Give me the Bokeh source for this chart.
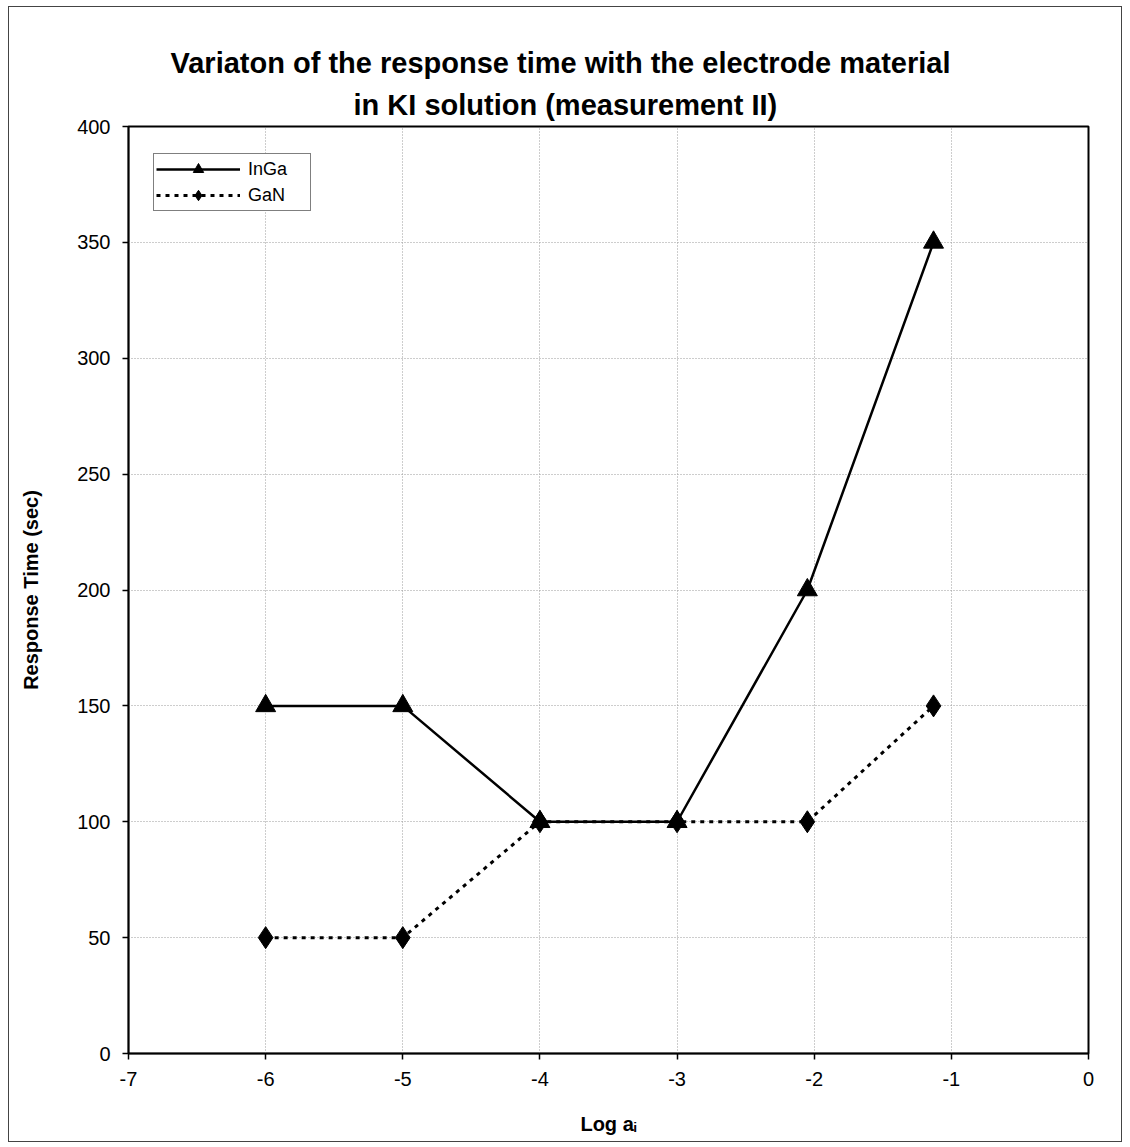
from bokeh.plotting import figure
from bokeh.models import Title, Range1d, FixedTicker, Legend, LegendItem
from bokeh.embed import file_html
from bokeh.resources import INLINE

# ---- data ----
log_a = [-6, -5, -4, -3, -2.05, -1.13]
inga = [150, 150, 100, 100, 200, 350]
gan = [50, 50, 100, 100, 100, 150]
x_ticks = [-7, -6, -5, -4, -3, -2, -1, 0]
y_ticks = [0, 50, 100, 150, 200, 250, 300, 350, 400]
title_lines = ["Variaton of the response time with the electrode material",
               "in KI solution (measurement II)"]

FONT = "Liberation Sans"

p = figure(width=1114, height=1136, output_backend="svg", toolbar_location=None,
           x_range=Range1d(-7, 0), y_range=Range1d(0, 400),
           min_border_left=119, min_border_right=35, min_border_top=119,
           min_border_bottom=90)
p.styles = {"border": "1px solid #444", "box-sizing": "border-box",
            "margin-left": "8px", "margin-top": "6px"}

# titles (added titles sit nearer the frame); centred on the whole chart
p.title.text = title_lines[0]
p.title.align = "left"
p.title.offset = 42
p.title.text_font = FONT
p.title.text_font_size = "29px"
p.title.text_font_style = "bold"
p.title.text_color = "black"
p.title.standoff = 4
p.add_layout(Title(text=title_lines[1], align="left", offset=225, text_font=FONT,
                   text_font_size="29px", text_font_style="bold",
                   text_color="black", standoff=12), "above")

# axes
for ax in (p.xaxis[0], p.yaxis[0]):
    ax.major_label_text_font = FONT
    ax.major_label_text_font_size = "20px"
    ax.major_label_text_color = "black"
    ax.axis_label_text_font = FONT
    ax.axis_label_text_font_size = "20px"
    ax.axis_label_text_font_style = "bold"
    ax.axis_label_text_color = "black"
    ax.axis_line_color = "black"
    ax.axis_line_width = 1.5
    ax.major_tick_line_color = "black"
    ax.major_tick_line_width = 1.5
    ax.major_tick_in = 0
    ax.major_tick_out = 6
    ax.minor_tick_line_color = None

p.xaxis.ticker = FixedTicker(ticks=x_ticks)
p.yaxis.ticker = FixedTicker(ticks=y_ticks)
p.xaxis.major_label_overrides = {t: str(t) for t in x_ticks}
p.yaxis.major_label_overrides = {t: str(t) for t in y_ticks}
p.xaxis.axis_label = "Log a\u1d62"
p.yaxis.axis_label = "Response Time (sec)"
p.xaxis.major_label_standoff = 12
p.xaxis.axis_label_standoff = 24
p.yaxis.major_label_standoff = 12
p.yaxis.axis_label_standoff = 32

# grid
p.xgrid.ticker = FixedTicker(ticks=x_ticks[1:-1])
p.ygrid.ticker = FixedTicker(ticks=y_ticks[1:-1])
for g in (p.xgrid[0], p.ygrid[0]):
    g.grid_line_color = "#9a9a9a"
    g.grid_line_dash = "1 2"
    g.grid_line_width = 1

p.outline_line_color = "black"
p.outline_line_width = 2
p.background_fill_color = "white"
p.border_fill_color = "white"

# series
l1 = p.line(log_a, inga, line_color="black", line_width=2.5)
s1 = p.scatter(log_a, inga, marker="triangle", size=20, fill_color="black", line_color="black")
l2 = p.line(log_a, gan, line_color="black", line_width=3, line_dash="4 5")
s2 = p.scatter(log_a, gan, marker="diamond", size=22, fill_color="black", line_color="black")

legend = Legend(items=[LegendItem(label="InGa", renderers=[l1, s1]),
                       LegendItem(label="GaN", renderers=[l2, s2])],
                location=(25, 842), orientation="vertical",
                glyph_width=84, glyph_height=26, label_width=60, label_standoff=8,
                padding=2, spacing=0, margin=0,
                label_text_font=FONT, label_text_font_size="18px",
                label_text_color="black",
                border_line_color="black", border_line_width=1,
                background_fill_alpha=1.0)
p.add_layout(legend)

open("out.html", "w").write(file_html(p, INLINE))
